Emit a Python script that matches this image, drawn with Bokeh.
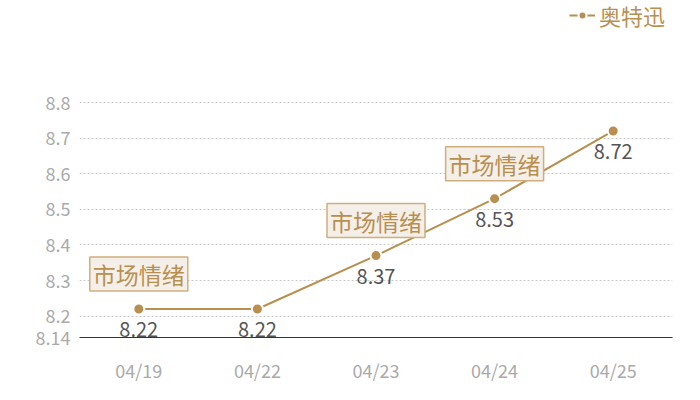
from bokeh.plotting import figure
from bokeh.models import ColumnDataSource, LabelSet, FixedTicker, Legend, LegendItem
from bokeh.core.properties import value
from bokeh.embed import file_html
from bokeh.resources import INLINE

dates = ["04/19", "04/22", "04/23", "04/24", "04/25"]
prices = [8.22, 8.22, 8.37, 8.53, 8.72]
series_name = "奥特迅"
note_dates = ["04/19", "04/23", "04/24"]
note_values = [8.22, 8.37, 8.53]
note_text = ["市场情绪", "市场情绪", "市场情绪"]
y_ticks = [8.14, 8.2, 8.3, 8.4, 8.5, 8.6, 8.7, 8.8]
y_tick_labels = ["8.14", "8.2", "8.3", "8.4", "8.5", "8.6", "8.7", "8.8"]

GOLD = "#b98f4f"
FONT = "Noto Sans CJK SC"

# y range extended upward so the legend sits inside the frame (top gridline 8.8 stays at ~102px)
p = figure(width=692, height=392, x_range=dates, y_range=(8.14, 9.0865),
           output_backend="svg", toolbar_location=None,
           min_border_left=79, min_border_right=20, min_border_top=0, min_border_bottom=55)
p.outline_line_color = None
p.background_fill_color = "white"

src = ColumnDataSource(dict(x=dates, y=prices, lbl=[f"{v:.2f}" for v in prices]))
line = p.line("x", "y", source=src, line_color=GOLD, line_width=2)
pts = p.scatter("x", "y", source=src, size=11, fill_color=GOLD, line_color="white", line_width=2)

labels = LabelSet(x="x", y="y", text="lbl", source=src, y_offset=-13,
                  text_align="center", text_baseline="top", text_color="#555555",
                  text_font=value(FONT), text_font_size="20px")
p.add_layout(labels)

nsrc = ColumnDataSource(dict(x=note_dates, y=note_values, t=note_text))
p.text(x="x", y="y", text="t", source=nsrc, y_offset=-35,
       text_align="center", text_baseline="middle", text_color=GOLD,
       text_font=value(FONT), text_font_size="23px",
       background_fill_color="#f4efe8", border_line_color="#cfae7c",
       border_line_width=1.5, padding=dict(left=3, right=3, top=0, bottom=0))

# axes
p.yaxis.ticker = FixedTicker(ticks=y_ticks)
p.yaxis.major_label_overrides = {t: l for t, l in zip(y_ticks, y_tick_labels)}
p.yaxis.axis_line_color = None
p.yaxis.major_tick_line_color = None
p.yaxis.minor_tick_line_color = None
p.yaxis.major_label_text_color = "#aaaaaa"
p.yaxis.major_label_text_font = FONT
p.yaxis.major_label_text_font_size = "18px"
p.yaxis.major_label_standoff = 3

p.xaxis.axis_line_color = "#333333"
p.xaxis.axis_line_width = 1
p.xaxis.major_tick_line_color = None
p.xaxis.minor_tick_line_color = None
p.xaxis.major_label_text_color = "#aaaaaa"
p.xaxis.major_label_text_font = FONT
p.xaxis.major_label_text_font_size = "18px"
p.xaxis.major_label_standoff = 13

p.xgrid.grid_line_color = None
p.ygrid.grid_line_color = "#c8c8c8"
p.ygrid.grid_line_dash = "2 2"
p.ygrid.grid_line_width = 1

legend = Legend(items=[LegendItem(label=series_name, renderers=[line, pts])],
                location=(490, 306), orientation="horizontal",
                background_fill_alpha=0, border_line_color=None,
                label_text_color=GOLD, label_text_font=FONT, label_text_font_size="22px",
                glyph_width=26, label_standoff=4, padding=0, margin=0)
p.add_layout(legend)

open("out.html", "w").write(file_html(p, INLINE))
